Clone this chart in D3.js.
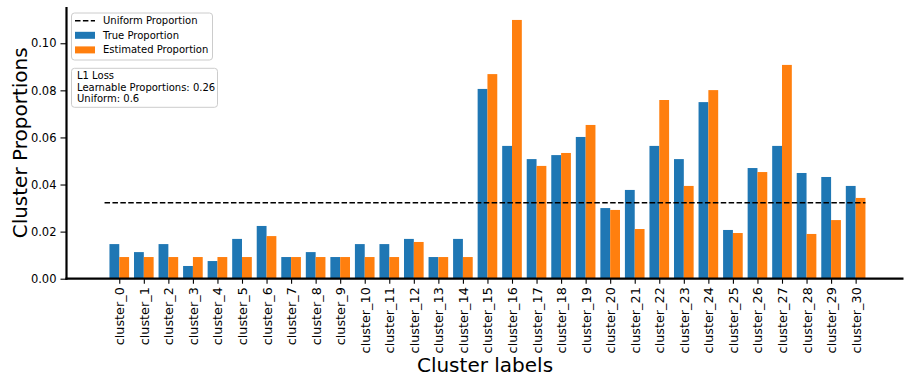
<!DOCTYPE html>
<html>
<head>
<meta charset="utf-8">
<script src="https://cdn.jsdelivr.net/npm/d3@7"></script>
<style>
  body { margin: 0; background: #fff; }
  text { font-family: "DejaVu Sans", sans-serif; fill: #000; }
</style>
</head>
<body>
<svg width="910" height="384"></svg>
<script>
// data
var clusters = ["cluster_0","cluster_1","cluster_2","cluster_3","cluster_4","cluster_5","cluster_6","cluster_7",
  "cluster_8","cluster_9","cluster_10","cluster_11","cluster_12","cluster_13","cluster_14","cluster_15",
  "cluster_16","cluster_17","cluster_18","cluster_19","cluster_20","cluster_21","cluster_22","cluster_23",
  "cluster_24","cluster_25","cluster_26","cluster_27","cluster_28","cluster_29","cluster_30"];

var trueProp = [0.0147, 0.0113, 0.0147, 0.0054, 0.0075, 0.0169, 0.0224, 0.0092, 0.0113, 0.0092, 0.0147,
  0.0147, 0.0169, 0.0092, 0.0169, 0.0806, 0.0564, 0.0508, 0.0525, 0.0602, 0.0300, 0.0377, 0.0564,
  0.0508, 0.0750, 0.0207, 0.0470, 0.0564, 0.0449, 0.0432, 0.0394];

var estProp = [0.0092, 0.0092, 0.0092, 0.0092, 0.0092, 0.0092, 0.0181, 0.0092, 0.0092, 0.0092, 0.0092,
  0.0092, 0.0156, 0.0092, 0.0092, 0.0869, 0.1099, 0.0479, 0.0534, 0.0653, 0.0292, 0.0211, 0.0759,
  0.0394, 0.0801, 0.0194, 0.0453, 0.0908, 0.0190, 0.0249, 0.0343];

var uniform = 0.0323;
var uniformSpan = [-0.6, 30.4];
var yTicks = [0, 0.02, 0.04, 0.06, 0.08, 0.10];
var lossLines = ["L1 Loss", "Learnable Proportions: 0.26", "Uniform: 0.6"];

var svg = d3.select("svg"),
    pLeft = 66.5, pRight = 903.5, pTop = 7, pBottom = 278.7;

//scales
var x = d3.scaleLinear().domain([-2.15, 31.95]).range([pLeft, pRight]),
    y = d3.scaleLinear().domain([0, 0.1154]).range([pBottom, pTop]),
    bw = 0.4;

var g = svg.append("g");

//bars
g.selectAll(".bar-true")
  .data(trueProp)
  .enter().append("rect")
  .attr("class", "bar-true")
  .attr("x", function(d, i) { return x(i - bw); })
  .attr("width", function(d, i) { return x(i) - x(i - bw); })
  .attr("y", function(d) { return y(d); })
  .attr("height", function(d) { return y(0) - y(d); })
  .attr("fill", "#1f77b4");

g.selectAll(".bar-est")
  .data(estProp)
  .enter().append("rect")
  .attr("class", "bar-est")
  .attr("x", function(d, i) { return x(i); })
  .attr("width", function(d, i) { return x(i + bw) - x(i); })
  .attr("y", function(d) { return y(d); })
  .attr("height", function(d) { return y(0) - y(d); })
  .attr("fill", "#ff7f0e");

//uniform line
g.append("line")
  .attr("x1", x(uniformSpan[0])).attr("x2", x(uniformSpan[1]))
  .attr("y1", y(uniform)).attr("y2", y(uniform))
  .attr("stroke", "#000").attr("stroke-width", 1.5)
  .attr("stroke-dasharray", "5.5,2.4");

//axes
var xAxis = g.append("g")
  .attr("transform", "translate(0," + pBottom + ")")
  .call(d3.axisBottom(x).tickValues(d3.range(clusters.length))
    .tickFormat(function(i) { return clusters[i]; })
    .tickSize(5).tickPadding(3));
xAxis.select(".domain").remove();
xAxis.selectAll("line").attr("stroke-width", 1.1);
xAxis.selectAll("text")
  .attr("y", 0).attr("x", 0).attr("dy", "0.35em")
  .attr("transform", "translate(0,8.5) rotate(-90)")
  .style("text-anchor", "end")
  .style("font-size", "12.8px")
  .style("font-family", "DejaVu Sans");

var yAxis = g.append("g")
  .attr("transform", "translate(" + pLeft + ",0)")
  .call(d3.axisLeft(y).tickValues(yTicks).tickFormat(d3.format(".2f"))
    .tickSize(6).tickPadding(4));
yAxis.select(".domain").remove();
yAxis.selectAll("line").attr("stroke-width", 1.1);
yAxis.selectAll("text")
  .style("font-size", "11.5px")
  .style("font-family", "DejaVu Sans");

//spines
g.append("line").attr("x1", pLeft).attr("x2", pLeft).attr("y1", pTop).attr("y2", pBottom + 1.1)
  .attr("stroke", "#000").attr("stroke-width", 2.2);
g.append("line").attr("x1", pLeft - 1.1).attr("x2", pRight).attr("y1", pBottom).attr("y2", pBottom)
  .attr("stroke", "#000").attr("stroke-width", 2.2);

//axis labels
svg.append("text")
  .attr("x", (pLeft + pRight) / 2).attr("y", 372)
  .attr("text-anchor", "middle")
  .style("font-size", "20px")
  .text("Cluster labels");

svg.append("text")
  .attr("transform", "translate(27," + (pTop + pBottom) / 2 + ") rotate(-90)")
  .attr("text-anchor", "middle")
  .style("font-size", "20px")
  .text("Cluster Proportions");

//legend
var leg = svg.append("g");
leg.append("rect")
  .attr("x", 71.5).attr("y", 13).attr("width", 141).attr("height", 47)
  .attr("rx", 3).attr("fill", "#fff").attr("fill-opacity", 0.8)
  .attr("stroke", "#ccc").attr("stroke-width", 1);

var items = [
  {label: "Uniform Proportion", type: "line"},
  {label: "True Proportion", color: "#1f77b4"},
  {label: "Estimated Proportion", color: "#ff7f0e"}
];
items.forEach(function(d, i) {
  var cy = 20.7 + i * 14.6;
  if (d.type === "line") {
    leg.append("line").attr("x1", 75).attr("x2", 95).attr("y1", cy).attr("y2", cy)
      .attr("stroke", "#000").attr("stroke-width", 1.5).attr("stroke-dasharray", "5.5,2.4");
  } else {
    leg.append("rect").attr("x", 75).attr("y", cy - 3.5).attr("width", 20).attr("height", 7)
      .attr("fill", d.color);
  }
  leg.append("text").attr("x", 103).attr("y", cy).attr("dy", "0.35em")
    .style("font-size", "10px").text(d.label);
});

//loss box
var box = svg.append("g");
box.append("rect")
  .attr("x", 71.5).attr("y", 68.3).attr("width", 146).attr("height", 39)
  .attr("rx", 3).attr("fill", "#fff").attr("fill-opacity", 0.8)
  .attr("stroke", "#ccc").attr("stroke-width", 1);
box.selectAll("text.loss")
  .data(lossLines)
  .enter().append("text")
  .attr("class", "loss")
  .attr("x", 77).attr("y", function(d, i) { return 75.5 + i * 11.5; })
  .attr("dy", "0.35em")
  .style("font-size", "10px")
  .text(function(d) { return d; });
</script>
</body>
</html>
